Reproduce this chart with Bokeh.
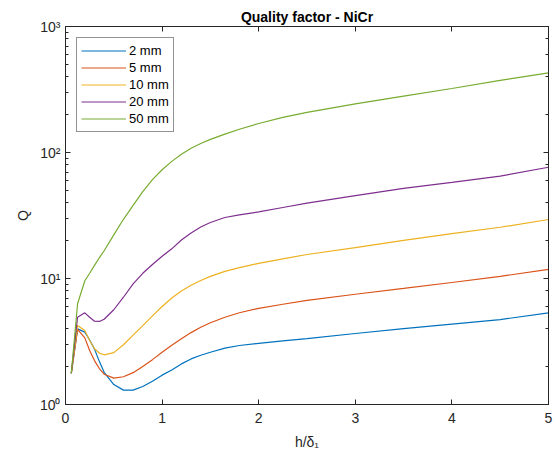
from bokeh.plotting import figure
from bokeh.models import (LogAxis, LinearAxis, Legend, LegendItem, Range1d,
                          CustomJSTickFormatter, FixedTicker, Title, LogTicker)
from bokeh.embed import file_html
from bokeh.resources import INLINE

x = [0.06, 0.125, 0.2, 0.25, 0.3, 0.35, 0.4, 0.5, 0.6, 0.7, 0.8, 0.9, 1.0, 1.1, 1.2,
     1.3, 1.4, 1.5, 1.65, 1.8, 2.0, 2.25, 2.5, 3.0, 3.5, 4.0, 4.5, 5.0]
q_2mm = [1.77, 3.98, 3.75, 3.25, 2.75, 2.2, 1.8, 1.44, 1.30, 1.30, 1.39, 1.53, 1.71, 1.88,
         2.1, 2.3, 2.46, 2.6, 2.8, 2.94, 3.06, 3.2, 3.33, 3.66, 4.0, 4.35, 4.72, 5.34]
q_5mm = [1.77, 3.95, 3.38, 2.68, 2.23, 1.93, 1.74, 1.62, 1.66, 1.79, 2.0, 2.27, 2.6, 2.95,
         3.33, 3.72, 4.1, 4.45, 4.93, 5.35, 5.8, 6.25, 6.7, 7.5, 8.35, 9.3, 10.4, 11.8]
q_10mm = [1.77, 4.24, 3.87, 3.22, 2.77, 2.56, 2.48, 2.58, 2.98, 3.55, 4.23, 5.05, 6.0, 7.0,
          7.95, 8.85, 9.65, 10.4, 11.4, 12.2, 13.2, 14.3, 15.5, 17.6, 20.1, 22.7, 25.5, 29.4]
q_20mm = [1.77, 4.93, 5.34, 4.93, 4.58, 4.56, 4.75, 5.65, 7.1, 9.05, 11.0, 12.9, 15.0, 17.2,
          20.2, 23.0, 25.6, 27.8, 30.5, 32.0, 33.8, 36.6, 39.6, 45.5, 52, 58, 65, 76.4]
q_50mm = [1.77, 6.3, 9.6, 11.0, 12.7, 14.6, 16.6, 22.2, 29.5, 38.0, 49, 61, 73, 85,
          97, 108, 118, 127, 140, 153, 170, 190, 208, 243, 280, 322, 373, 429]
labels = ["2 mm", "5 mm", "10 mm", "20 mm", "50 mm"]
colors = ["#0072BD", "#D95319", "#EDB120", "#7E2F8E", "#77AC30"]
series = [q_2mm, q_5mm, q_10mm, q_20mm, q_50mm]
x_ticks = [0, 1, 2, 3, 4, 5]

FONT = "Liberation Sans"
AX = "#262626"

p = figure(width=556, height=456, y_axis_type="log", output_backend="svg",
           toolbar_location=None, x_range=Range1d(0, 5), y_range=Range1d(1, 1000),
           min_border_left=65, min_border_right=8, min_border_top=26,
           min_border_bottom=52)
p.title = Title(text="Quality factor - NiCr", text_font=FONT, text_font_size="14px",
                text_font_style="bold", align="center", text_color="#000000",
                standoff=4)
p.xgrid.visible = False
p.ygrid.visible = False
p.outline_line_color = AX
p.background_fill_color = "white"
p.border_fill_color = "white"

renderers = []
for ys, c in zip(series, colors):
    r = p.line(x, ys, line_color=c, line_width=1.2)
    renderers.append(r)

fmt = CustomJSTickFormatter(code="""
const sup = ['\u2070','\u00b9','\u00b2','\u00b3'];
const e = Math.round(Math.log10(tick));
return '10' + sup[e];
""")
blank = CustomJSTickFormatter(code="return '';")

xa = p.xaxis[0]
xa.ticker = FixedTicker(ticks=x_ticks)
ya = p.yaxis[0]
ya.formatter = fmt
for ax in (xa, ya):
    ax.major_tick_in = 5
    ax.major_tick_out = 0
    ax.axis_line_color = AX
    ax.major_tick_line_color = AX
    ax.major_label_text_font = FONT
    ax.major_label_text_font_size = "14px"
    ax.major_label_text_color = AX
    ax.axis_label_text_font = FONT
    ax.axis_label_text_font_size = "14px"
    ax.axis_label_text_font_style = "normal"
    ax.axis_label_text_color = AX
xa.minor_tick_in = 0
xa.minor_tick_out = 0
xa.major_label_standoff = 8
ya.major_label_standoff = 5
ya.minor_tick_in = 3
ya.minor_tick_out = 0
ya.minor_tick_line_color = AX
xa.axis_label = "h/δ₁"
xa.axis_label_standoff = 8
ya.axis_label = "Q"
ya.axis_label_standoff = 6

top = LinearAxis(ticker=FixedTicker(ticks=x_ticks), formatter=blank,
                 major_tick_in=5, major_tick_out=0, minor_tick_in=0, minor_tick_out=0,
                 axis_line_color=AX, major_tick_line_color=AX, major_label_standoff=0)
right = LogAxis(ticker=LogTicker(), formatter=blank, major_tick_in=5, major_tick_out=0,
                minor_tick_in=3, minor_tick_out=0, axis_line_color=AX,
                major_tick_line_color=AX, minor_tick_line_color=AX, major_label_standoff=0)
p.add_layout(top, "above")
p.add_layout(right, "right")

legend = Legend(
    items=[LegendItem(label=l, renderers=[r]) for l, r in zip(labels, renderers)],
    location="top_left", margin=11, padding=4, spacing=0,
    glyph_width=45, glyph_height=17, label_standoff=3,
    label_text_font=FONT, label_text_font_size="13px", label_text_color="#000000",
    label_height=17, border_line_color=AX, border_line_width=1,
    background_fill_alpha=1.0)
p.add_layout(legend)

open("out.html", "w").write(file_html(p, INLINE))
